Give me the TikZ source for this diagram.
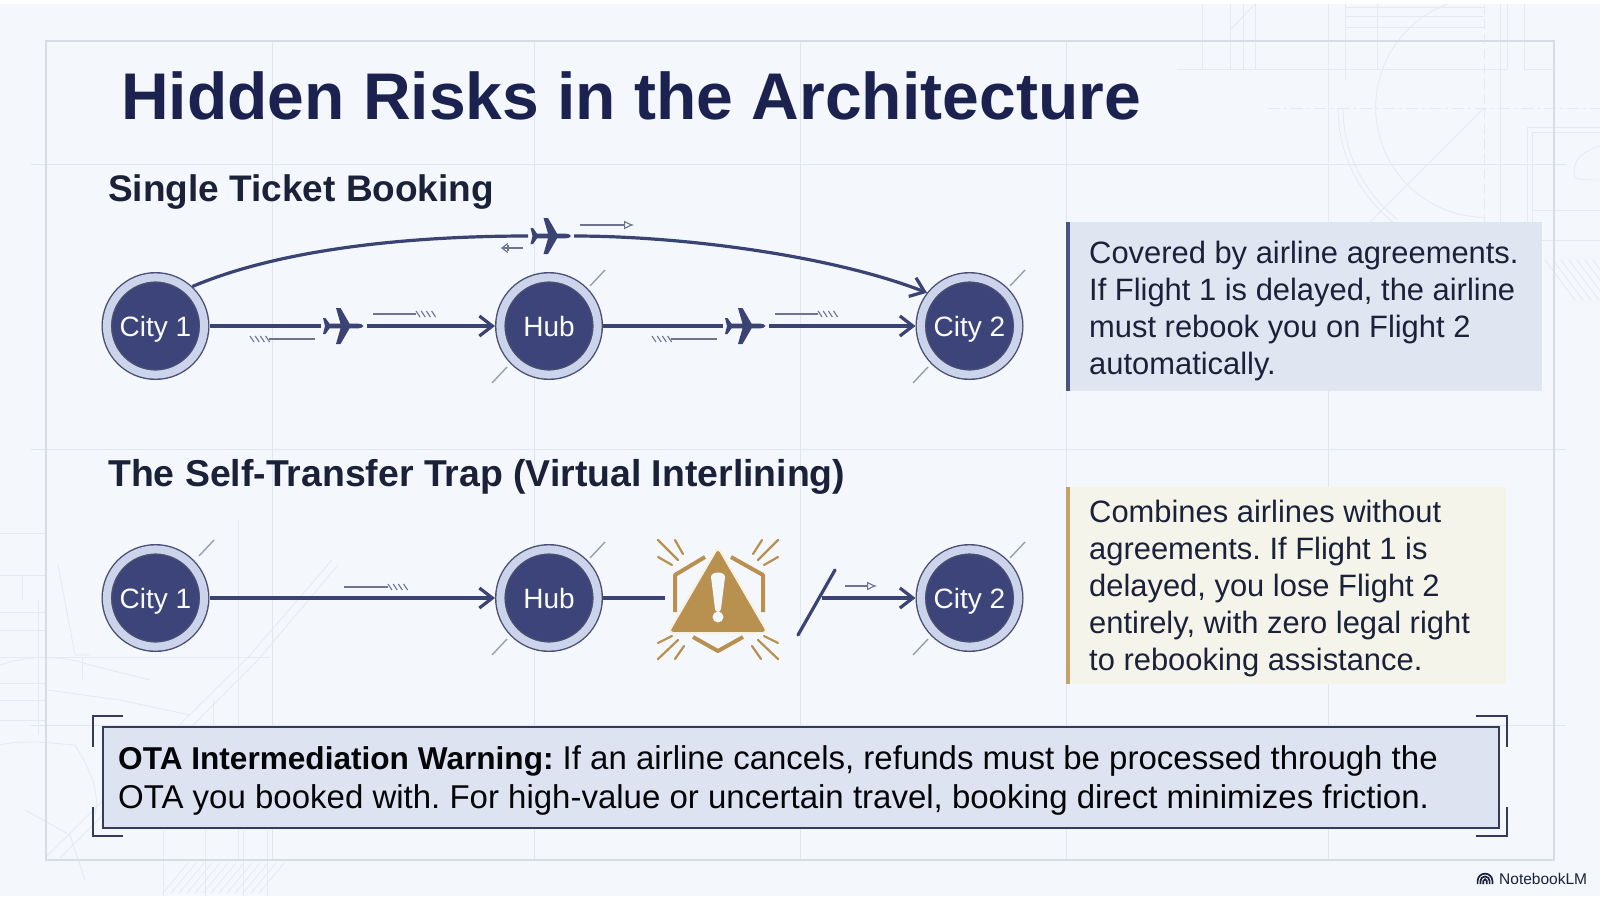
\documentclass[tikz,border=0pt]{standalone}
\usepackage{fontspec}
\setmainfont{Liberation Sans}
\usetikzlibrary{arrows.meta,calc}
\frenchspacing
\definecolor{bgc}{HTML}{F4F7FB}
\definecolor{grid}{HTML}{E1E5EC}
\definecolor{sketch}{HTML}{E6E9F0}
\definecolor{framec}{HTML}{D6DBE4}
\definecolor{navy}{HTML}{1C2250}
\definecolor{ink}{HTML}{1B2138}
\definecolor{route}{HTML}{3B4274}
\definecolor{disc}{HTML}{3C4479}
\definecolor{ringc}{HTML}{CCD4EC}
\definecolor{ringline}{HTML}{4A4F72}
\definecolor{annot}{HTML}{6E7490}
\definecolor{gold}{HTML}{B8904F}
\definecolor{halo}{HTML}{F8F1E2}
\definecolor{boxa}{HTML}{DFE5F1}
\definecolor{boxb}{HTML}{F5F4EA}
\definecolor{bara}{HTML}{4B5382}
\definecolor{barb}{HTML}{C4A36A}
\definecolor{warnfill}{HTML}{DDE3F0}
\definecolor{warnline}{HTML}{363B5C}
\tikzset{
  city/.style={circle,fill=disc,draw=ringline,line width=1.4pt,double=ringc,double distance=8pt,
    minimum size=97.2pt,inner sep=0pt,outer sep=5.4pt,text=white!90!ringc,text height=20pt,text depth=0pt,
    font=\fontsize{28}{32}\selectfont},
  routeline/.style={draw=route,line width=3.2pt},
  routearrow/.style={routeline,-{Straight Barb[length=13pt,width=20pt,line width=3.2pt]}},
  planebox/.style={inner sep=0pt,outer sep=0pt,minimum width=46pt,minimum height=6pt},
  tick/.style={draw=annot!70!white,line width=1.4pt},
  note/.style={draw=annot,line width=1.1pt},
  notetip/.style={note,-{Latex[open,length=10pt,width=9pt]}},
  gridline/.style={draw=grid,line width=1pt},
  sk/.style={draw=sketch,line width=.8pt},
  heading/.style={anchor=base west,inner sep=0pt,text=ink,font=\fontsize{37}{41}\bfseries\selectfont},
  infobox/.style={anchor=north west,inner sep=0pt,text=ink,align=left,font=\fontsize{30.9}{37}\selectfont},
  raysty/.style={draw=gold,line width=2.2pt,line cap=round},
  bracket/.style={draw=warnline,line width=1.8pt},
  pics/plane/.style={code={
    \fill[route] (20,0) .. controls (19,-1.8) and (17,-2.4) .. (14,-2.4) -- (6,-2.4) -- (-3,-18) -- (-7.5,-18) -- (-3,-2.4)
      -- (-14,-2.4) -- (-18,-8) -- (-20.5,-8) -- (-18.5,0) -- (-20.5,8) -- (-18,8) -- (-14,2.4) -- (-3,2.4)
      -- (-7.5,18) -- (-3,18) -- (6,2.4) -- (14,2.4) .. controls (17,2.4) and (19,1.8) .. (20,0) -- cycle;
  }}
}
\newcommand{\hatchmark}[2]{\foreach \hh in {0,1,2,3}{\draw[note] (#1+\hh*5.2,#2-3) -- (#1+\hh*5.2+4,#2+3);}}
\begin{document}
\begin{tikzpicture}[x=1pt,y=-1pt]
\useasboundingbox (0,0) rectangle (1600,900);
\fill[white] (0,0) rectangle (1600,900);
\fill[bgc] (0,4) rectangle (1600,896);
% grid
\foreach \gx in {272,534,800,1066,1328}{\draw[gridline] (\gx,41) -- (\gx,860);}
\foreach \gy in {164,449,725}{\draw[gridline] (31,\gy) -- (1566,\gy);}
% blueprint, top right
\foreach \sx/\sa/\sb in {1202/4/69,1230/4/69,1243/4/69,1255/4/69,1328/4/222,1345/4/80,1377/4/69,1500/4/222,1507/4/69,1524/4/69,1527/127/300,1532/132/300}{\draw[sk] (\sx,\sa) -- (\sx,\sb);}
\foreach \sy/\sa/\sb in {69/1177/1507,69/1524/1554,7/1345/1484,16/1345/1484,27/1345/1484,127/1527/1600,132/1532/1600,210/1532/1600,240/1532/1600}{\draw[sk] (\sa,\sy) -- (\sb,\sy);}
\draw[sk,dash pattern=on 12pt off 4pt on 3pt off 4pt] (1268,108) -- (1600,108);
\draw[sk,dash pattern=on 10pt off 5pt] (1484,4) -- (1484,222);
\draw[sk] (1448,4) arc[start angle=110,end angle=270,radius=110pt];
\draw[sk] (1338,108) arc[start angle=180,end angle=232,radius=146pt];
\draw[sk] (1343,108) arc[start angle=180,end angle=232,radius=141pt];
\draw[sk] (1484,108) -- (1370,222);
\draw[sk] (1230,30) -- (1255,4);
\draw[sk] (1575,178) .. controls (1570,160) and (1585,150) .. (1600,146);
\draw[sk] (1575,178) .. controls (1582,180) and (1592,180) .. (1600,180);
\foreach \hx in {1545,1553,...,1600}{\draw[sk] (\hx,260) -- (\hx+30,300);}
% blueprint, bottom left
\foreach \sy/\sa/\sb in {533/0/46,575/0/46,612/0/46,630/0/46,683/0/46,700/0/46,720/0/46,657/0/270}{\draw[sk] (\sa,\sy) -- (\sb,\sy);}
\foreach \sx/\sa/\sb in {38/600/735,22/575/600,238/520/860,82/657/680,213/700/725}{\draw[sk] (\sx,\sa) -- (\sx,\sb);}
\draw[sk] (46,857) -- (250,655) -- (332,560);
\draw[sk] (60,858) -- (258,660) -- (338,565);
\draw[sk] (58,565) -- (75,655) -- (90,655);
\draw[sk] (48,690) -- (120,700) -- (190,715);
\draw[sk] (25,810) -- (70,835) -- (85,880);
\draw[sk] (0,745) .. controls (20,740) and (40,742) .. (75,745) .. controls (90,770) and (100,790) .. (95,815);
\draw[sk] (0,665) .. controls (30,655) and (60,655) .. (90,665) -- (150,680);
\foreach \hx in {163,171,...,260}{\draw[sk] (\hx,893) -- (\hx+25,863);}
\foreach \sx in {163,205,243,267}{\draw[sk] (\sx,830) -- (\sx,896);}
% frame
\draw[draw=framec,line width=1.4pt] (46,41) rectangle (1554,860);
% small ticks beside nodes
\foreach \ox/\oy in {590/286,1010/286,199/556,590/558,1010/558}{\draw[tick] (\ox,\oy) -- ++(15,-16);}
\foreach \ox/\oy in {492/383,913/383,492/655,913/655}{\draw[tick] (\ox,\oy) -- ++(15,-16);}
% title and headings
\node[anchor=base west,inner sep=0pt,text=navy,font=\fontsize{66}{72}\bfseries\selectfont] (title) at (121,119) {Hidden Risks in the Architecture};
\node[heading] (head1) at (108,201) {Single Ticket Booking};
\node[heading,font=\fontsize{37.4}{41}\bfseries\selectfont] (head2) at (108,486) {The Self-Transfer Trap (Virtual Interlining)};
% row 1
\node[city] (c1) at (155.5,326) {City 1};
\node[city] (h1) at (549,326) {Hub};
\node[city] (c2) at (969.5,326) {City 2};
\node[planebox] (p1) at (343.5,326) {};
\node[planebox] (p2) at (745.5,326) {};
\node[planebox] (p3) at (551,236) {};
\pic at (p1) {plane};
\pic at (p2) {plane};
\pic at (p3) {plane};
\draw[routeline] (c1) -- (p1);
\draw[routearrow] (p1) -- (h1);
\draw[routeline] (h1) -- (p2);
\draw[routearrow] (p2) -- (c2);
\draw[routeline] (c1.47) .. controls (290,245) and (430,236) .. (p3.west);
\draw[routearrow] (p3.east) .. controls (680,236) and (830,255) .. (c2.142);
% row 1 notes
\draw[note] (373,314) -- (416,314); \hatchmark{416}{314}
\draw[note] (315,339) -- (269,339); \hatchmark{250}{339}
\draw[note] (775,314) -- (818,314); \hatchmark{818}{314}
\draw[note] (717,339) -- (671,339); \hatchmark{652}{339}
\draw[notetip] (580,225) -- (634,225);
\draw[note,-{Straight Barb[length=6pt,width=9pt]}] (523,248) -- (501,248);
\draw[note] (508,245) -- (508,251);
% row 2
\node[city] (c3) at (155.5,598) {City 1};
\node[city] (h2) at (549,598) {Hub};
\node[city] (c4) at (969.5,598) {City 2};
\coordinate (w1) at (665,598);
\coordinate (s1) at (822,598);
\draw[routearrow] (c3) -- (h2);
\draw[routeline] (h2) -- (w1);
\draw[routearrow] (s1) -- (c4);
\draw[draw=route,line width=3.2pt,line cap=round] (798,635) -- (835,570);
\draw[note] (344,587) -- (388,587); \hatchmark{388}{587}
\draw[notetip] (845,586) -- (877,586);
% warning icon
\draw[draw=gold,line width=4pt,line join=round] (705,557) -- (675,575) -- (675,612);
\draw[draw=gold,line width=4pt,line join=round] (731,557) -- (763,575) -- (763,612);
\draw[draw=gold,line width=4pt,line join=round] (693,637) -- (718,651) -- (743,637);
\draw[fill=gold,draw=halo,line width=2pt,rounded corners=5pt] (718,547) -- (768,633) -- (668,633) -- cycle;
\fill[bgc] (711,577) .. controls (711,571) and (725,571) .. (725,577) -- (721,609) .. controls (720,613) and (716,613) .. (715,609) -- cycle;
\fill[bgc] (718,617) circle[radius=5.5pt];
\foreach \ax/\ay/\bx/\by in {658/540/678/560,675/540/683/554,658/557/672/565,778/540/758/560,762/540/753/554,778/557/764/565,658/659/678/640,675/659/684/646,658/643/672/636,778/659/758/640,761/659/752/646,778/643/764/636}{\draw[raysty] (\ax,\ay) -- (\bx,\by);}
% information boxes
\fill[boxa] (1066,222) rectangle (1542,391);
\node[infobox] (info1) at (1089,241) {Covered by airline agreements.\\If Flight 1 is delayed, the airline\\must rebook you on Flight 2\\automatically.};
\draw[draw=bara,line width=4pt] (1068,222) -- (1068,391);
\fill[boxb] (1066,487) rectangle (1506,684);
\node[infobox] (info2) at (1089,500) {Combines airlines without\\agreements. If Flight 1 is\\delayed, you lose Flight 2\\entirely, with zero legal right\\to rebooking assistance.};
\draw[draw=barb,line width=4pt] (1068,487) -- (1068,684);
% warning box
\node[anchor=north west,fill=warnfill,draw=warnline,line width=2pt,minimum width=1396pt,minimum height=101pt,inner sep=0pt] (warn) at (102,726) {};
\node[infobox,anchor=west,font=\fontsize{33}{39}\selectfont,text=black!85!ink] (warntext) at (118,780.5) {{\fontsize{31.6}{39}\bfseries\selectfont OTA Intermediation Warning:} If an airline cancels, refunds must be processed through the\\OTA you booked with. For high-value or uncertain travel, booking direct minimizes friction.};
\draw[bracket] (123,716) -- (93,716) -- (93,747);
\draw[bracket] (123,836) -- (93,836) -- (93,807);
\draw[bracket] (1476,716) -- (1507,716) -- (1507,747);
\draw[bracket] (1476,836) -- (1507,836) -- (1507,807);
% logo
\foreach \rr in {1.8,4.6,7.4}{\draw[draw=ink,line width=1.7pt] (1485-\rr,884) -- (1485-\rr,881) arc[start angle=180,end angle=0,radius=\rr pt] -- (1485+\rr,884);}
\node[anchor=base west,inner sep=0pt,text=ink,font=\fontsize{15.5}{18}\selectfont] (brand) at (1499,884) {NotebookLM};
\end{tikzpicture}
\end{document}
